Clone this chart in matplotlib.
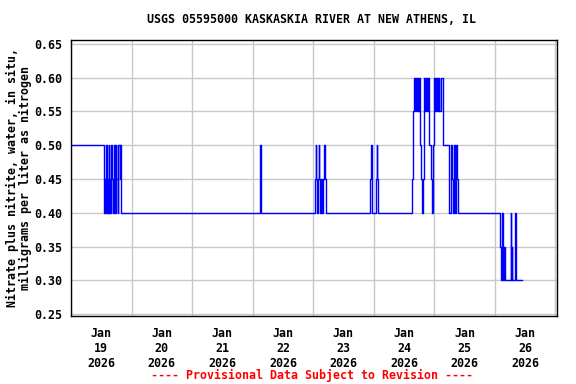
import numpy as np
import matplotlib
matplotlib.use("Agg")
import matplotlib.pyplot as plt
import matplotlib.dates as mdates

# change points: hours after 2026-01-19 00:00, and the value from there on
hours = [0.0,
         13.25, 13.5, 13.75, 14.0, 14.25, 14.5, 14.75, 15.0, 15.25, 15.5, 15.75,
         16.0, 16.25, 16.5, 17.0, 17.25, 17.5, 17.75, 18.0, 18.5, 18.75, 19.25,
         19.5, 19.75,
         75.0, 75.25, 75.5,
         96.75, 97.0, 97.25, 97.5, 97.75, 98.25, 98.5, 98.75, 99.0, 99.5, 99.75,
         100.25, 100.75, 101.25,
         118.5, 118.75, 119.25, 119.5, 121.0, 121.25, 121.5, 121.75,
         135.0, 135.5, 135.75, 136.0, 136.5, 136.75, 137.25, 137.5, 137.75,
         138.0, 138.25, 138.5, 138.75, 139.0, 139.5, 139.75, 140.0, 140.5,
         140.75, 141.25, 141.5, 141.75, 142.0, 142.75, 143.0, 143.5, 143.75,
         144.0, 144.5, 144.75, 145.0, 145.25, 145.5, 145.75, 146.0, 146.5,
         147.5, 149.75, 150.0, 150.5, 150.75, 151.0, 151.25, 151.75, 152.0,
         152.25, 152.75, 153.0, 153.25,
         170.0, 170.5, 171.0, 171.25, 171.75, 172.0, 174.25, 174.5, 174.75,
         175.0, 176.0, 176.25, 176.5, 178.75]
values = [0.50,
          0.40, 0.45, 0.40, 0.50, 0.40, 0.45, 0.40, 0.50, 0.40, 0.45, 0.40,
          0.50, 0.45, 0.40, 0.50, 0.45, 0.40, 0.50, 0.45, 0.40, 0.50, 0.45,
          0.50, 0.40,
          0.50, 0.45, 0.40,
          0.45, 0.50, 0.45, 0.40, 0.45, 0.50, 0.45, 0.40, 0.45, 0.40, 0.45,
          0.50, 0.45, 0.40,
          0.45, 0.50, 0.45, 0.40, 0.45, 0.50, 0.45, 0.40,
          0.45, 0.50, 0.55, 0.60, 0.55, 0.60, 0.55, 0.60, 0.55,
          0.60, 0.55, 0.50, 0.45, 0.40, 0.45, 0.55, 0.60, 0.55,
          0.60, 0.55, 0.60, 0.55, 0.50, 0.45, 0.40, 0.50, 0.55,
          0.60, 0.55, 0.60, 0.55, 0.60, 0.55, 0.60, 0.55, 0.60,
          0.50, 0.45, 0.40, 0.45, 0.50, 0.45, 0.40, 0.45, 0.50,
          0.40, 0.50, 0.45, 0.40,
          0.35, 0.30, 0.40, 0.30, 0.35, 0.30, 0.40, 0.30, 0.35,
          0.30, 0.40, 0.35, 0.30, 0.30]

start = np.datetime64("2026-01-19T00:00")
times = start + (np.array(hours) * 60).astype("timedelta64[m]")

y_ticks = [0.25, 0.30, 0.35, 0.40, 0.45, 0.50, 0.55, 0.60, 0.65]

mono = "DejaVu Sans Mono"
fs = 8.4

fig = plt.figure(figsize=(5.76, 3.84), dpi=100)
ax = fig.add_axes([0.1233, 0.177, 0.8437, 0.719])

ax.step(times, values, where="post", color="#0000ff", linewidth=1.0)

ax.set_xlim(np.datetime64("2026-01-19T00:00"), np.datetime64("2026-01-27T00:40"))
ax.set_ylim(0.247, 0.656)

ax.xaxis.set_major_locator(mdates.DayLocator())
ax.xaxis.set_major_formatter(plt.NullFormatter())
ax.xaxis.set_minor_locator(mdates.HourLocator(byhour=[12]))
ax.xaxis.set_minor_formatter(mdates.DateFormatter("%b\n%d\n%Y"))
ax.tick_params(axis="x", which="both", length=0, pad=8)
ax.tick_params(axis="y", length=0, pad=6)

ax.set_yticks(y_ticks)
ax.set_yticklabels(["%.2f" % v for v in y_ticks])

for lab in ax.get_xticklabels(minor=True) + ax.get_yticklabels():
    lab.set_fontfamily(mono)
    lab.set_fontweight("bold")
    lab.set_fontsize(fs)

ax.grid(which="major", color="#c8c8c8", linewidth=1.0)
ax.set_axisbelow(True)
for s in ax.spines.values():
    s.set_linewidth(1.0)

ax.set_ylabel("Nitrate plus nitrite, water, in situ,\nmilligrams per liter as nitrogen",
              fontfamily=mono, fontweight="bold", fontsize=fs, linespacing=1.0)
ax.yaxis.set_label_coords(-0.080, 0.5)

fig.text(0.541, 0.948, "USGS 05595000 KASKASKIA RIVER AT NEW ATHENS, IL",
         ha="center", va="center", fontfamily=mono, fontweight="bold", fontsize=fs)
fig.text(0.541, 0.023, "---- Provisional Data Subject to Revision ----",
         ha="center", va="center", fontfamily=mono, fontweight="bold", fontsize=fs,
         color="#ff0000")

fig.savefig("out.png", dpi=100)
